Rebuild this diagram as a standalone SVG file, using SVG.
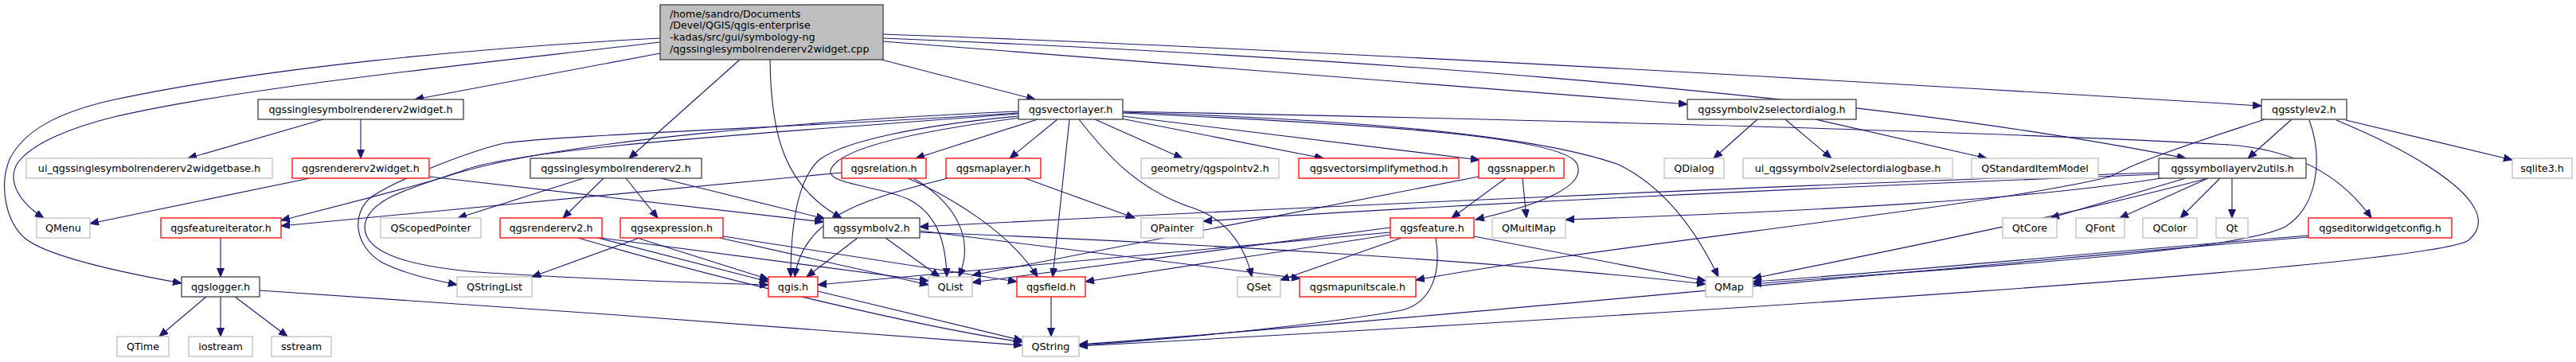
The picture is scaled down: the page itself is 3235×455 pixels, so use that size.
<svg xmlns="http://www.w3.org/2000/svg" width="3235" height="455" viewBox="0 0 3235 455">
<style>
.e{fill:none;stroke:#191970;stroke-width:1.1;marker-end:url(#arr)}
rect{fill:#fff;stroke-width:1.3}
.b{stroke:#404040}.r{stroke:#ff0000}.g{stroke:#bfbfbf}
text{font-family:"DejaVu Sans","Liberation Sans",sans-serif;font-size:12.7px;text-anchor:middle;fill:#000}
</style>
<defs>
<marker id="arr" markerWidth="12" markerHeight="10" refX="11" refY="4.5" orient="auto" markerUnits="userSpaceOnUse"><path d="M0,0 L11,4.5 L0,9 z" fill="#191970" stroke="#191970" stroke-width="1"/></marker>
</defs>
<rect x="0" y="0" width="3235" height="455" style="fill:#fff;stroke:none"/>
<g id="connectors">
<path class="e" d="M829,48 C600,60 330,85 140,126 C70,142 30,165 12,200 C-2,235 8,280 32,300 C60,322 150,342 228,356"/>
<path class="e" d="M829,53 C600,80 300,110 143,147 C90,160 40,180 22,205 C8,228 25,255 55,274"/>
<path class="e" d="M829,67 L521,125"/>
<path class="e" d="M929,75 L790,199"/>
<path class="e" d="M967,75 C968,170 985,235 1057,274"/>
<path class="e" d="M1107,75 L1300,125"/>
<path class="e" d="M1109,52 L2119,131"/>
<path class="e" d="M1109,43 C1600,60 2300,100 2840,133"/>
<path class="e" d="M1109,48 C1600,68 2300,110 2745,199"/>
<path class="e" d="M406,150 L236,199"/>
<path class="e" d="M453,150 L453,199"/>
<path class="e" d="M389,224 L113,281"/>
<path class="e" d="M539,222 L1034,279"/>
<path class="e" d="M733,224 L575,274"/>
<path class="e" d="M758,224 L707,274"/>
<path class="e" d="M786,224 L826,274"/>
<path class="e" d="M830,224 L1036,275"/>
<path class="e" d="M1279,140 C1050,150 700,175 560,222 C500,240 420,260 353,277"/>
<path class="e" d="M1279,142 C1000,160 700,170 633,180 C590,190 500,225 467,247 C440,268 445,310 480,330 C510,345 545,352 574,358"/>
<path class="e" d="M1279,143 C1000,165 650,185 580,215 C520,235 460,250 458,285 C457,320 520,335 600,342 C750,352 900,356 965,358"/>
<path class="e" d="M1279,146 C1150,158 1060,178 1030,200 C1000,225 993,290 993,348"/>
<path class="e" d="M1281,148 C1150,165 1060,185 1045,210 C1030,232 1100,232 1140,250 C1180,270 1188,310 1189,348"/>
<path class="e" d="M1303,150 L1150,199"/>
<path class="e" d="M1328,150 L1268,199"/>
<path class="e" d="M1343,150 L1322,348"/>
<path class="e" d="M1355,150 C1390,195 1430,240 1500,262 C1545,278 1565,315 1572,348"/>
<path class="e" d="M1375,150 L1485,199"/>
<path class="e" d="M1408,149 L1662,199"/>
<path class="e" d="M1410,146 L1858,201"/>
<path class="e" d="M1410,142 C1700,155 1960,170 1980,205 C1995,235 1930,258 1853,276"/>
<path class="e" d="M1410,141 C1700,150 1930,170 2033,207 C2090,235 2130,290 2158,348"/>
<path class="e" d="M1410,140 C1900,150 2500,165 2800,182 C2880,188 2940,220 2978,274"/>
<path class="e" d="M1057,217 L353,284"/>
<path class="e" d="M1147,224 C1200,255 1225,300 1204,348"/>
<path class="e" d="M1140,224 C1200,250 1270,295 1303,348"/>
<path class="e" d="M1190,224 C1100,248 1010,265 998,348"/>
<path class="e" d="M1287,224 L1425,274"/>
<path class="e" d="M1077,299 L1013,348"/>
<path class="e" d="M1112,299 L1180,348"/>
<path class="e" d="M1155,290 L1633,350"/>
<path class="e" d="M1155,292 C1500,305 1900,330 2142,357"/>
<path class="e" d="M803,299 L668,348"/>
<path class="e" d="M800,299 L965,351"/>
<path class="e" d="M904,299 L1166,358"/>
<path class="e" d="M908,297 L1277,354"/>
<path class="e" d="M751,299 L965,354"/>
<path class="e" d="M754,299 L1166,353"/>
<path class="e" d="M726,299 C900,350 1150,410 1284,430"/>
<path class="e" d="M277,299 L277,348"/>
<path class="e" d="M259,373 L200,423"/>
<path class="e" d="M277,373 L277,423"/>
<path class="e" d="M295,373 L361,423"/>
<path class="e" d="M326,365 C600,382 1100,420 1284,434"/>
<path class="e" d="M1027,366 L1284,428"/>
<path class="e" d="M1320,373 L1320,423"/>
<path class="e" d="M1746,292 L1027,358"/>
<path class="e" d="M1746,286 L1221,355"/>
<path class="e" d="M1746,295 L1363,354"/>
<path class="e" d="M1760,299 L1608,352"/>
<path class="e" d="M1851,297 L2142,353"/>
<path class="e" d="M1803,299 C1810,340 1800,380 1760,390 C1650,410 1450,428 1355,434"/>
<path class="e" d="M1891,224 L1823,274"/>
<path class="e" d="M1912,224 L1917,274"/>
<path class="e" d="M1857,222 L1221,346"/>
<path class="e" d="M2207,150 L2152,199"/>
<path class="e" d="M2242,150 L2300,199"/>
<path class="e" d="M2280,150 L2495,199"/>
<path class="e" d="M2711,217 C2300,230 1600,262 1155,285"/>
<path class="e" d="M2711,219 C2300,235 1800,258 1511,278"/>
<path class="e" d="M2714,224 C2550,250 2300,265 1966,276"/>
<path class="e" d="M2773,224 C2600,270 2350,320 2201,350"/>
<path class="e" d="M2745,224 L2575,274"/>
<path class="e" d="M2773,224 L2662,274"/>
<path class="e" d="M2788,224 L2738,274"/>
<path class="e" d="M2803,224 L2803,274"/>
<path class="e" d="M2878,150 L2823,199"/>
<path class="e" d="M2946,151 L3155,201"/>
<path class="e" d="M2844,150 C2760,178 2690,200 2650,222 C2500,260 2000,310 1778,352"/>
<path class="e" d="M2900,151 C2918,200 2910,260 2870,285 C2800,320 2400,340 2201,357"/>
<path class="e" d="M2934,151 C3040,195 3150,260 3100,302 C3050,335 2100,395 1355,435"/>
<path class="e" d="M2899,296 C2600,320 2350,345 2201,354"/>
<path class="e" d="M2899,298 C2500,330 1800,400 1355,433"/>
</g>
<g id="root"><rect x="829" y="6" width="280" height="69" class="b" style="fill:#bfbfbf"/>
<text x="841" y="21.5" style="text-anchor:start">/home/sandro/Documents</text>
<text x="841" y="36" style="text-anchor:start">/Devel/QGIS/qgis-enterprise</text>
<text x="841" y="50.5" style="text-anchor:start">-kadas/src/gui/symbology-ng</text>
<text x="841" y="65.5" style="text-anchor:start">/qgssinglesymbolrendererv2widget.cpp</text></g>
<g id="n_widget"><rect x="324" y="125" width="258" height="25" class="b"/><text x="453" y="142">qgssinglesymbolrendererv2widget.h</text></g>
<g id="n_vectorlayer"><rect x="1279" y="125" width="131" height="25" class="b"/><text x="1344.5" y="142">qgsvectorlayer.h</text></g>
<g id="n_selector"><rect x="2119" y="125" width="212" height="25" class="b"/><text x="2225" y="142">qgssymbolv2selectordialog.h</text></g>
<g id="n_stylev2"><rect x="2840" y="125" width="107" height="25" class="b"/><text x="2893.5" y="142">qgsstylev2.h</text></g>
<g id="n_uibase"><rect x="33" y="199" width="309" height="25" class="g"/><text x="187.5" y="216">ui_qgssinglesymbolrendererv2widgetbase.h</text></g>
<g id="n_rw"><rect x="367" y="199" width="172" height="25" class="r"/><text x="453" y="216">qgsrendererv2widget.h</text></g>
<g id="n_ssr"><rect x="666" y="199" width="215" height="25" class="b"/><text x="773.5" y="216">qgssinglesymbolrendererv2.h</text></g>
<g id="n_relation"><rect x="1057" y="199" width="106" height="25" class="r"/><text x="1110" y="216">qgsrelation.h</text></g>
<g id="n_maplayer"><rect x="1188" y="199" width="119" height="25" class="r"/><text x="1247.5" y="216">qgsmaplayer.h</text></g>
<g id="n_pointv2"><rect x="1433" y="199" width="173" height="25" class="g"/><text x="1519.5" y="216">geometry/qgspointv2.h</text></g>
<g id="n_vsimp"><rect x="1631" y="199" width="201" height="25" class="r"/><text x="1731.5" y="216">qgsvectorsimplifymethod.h</text></g>
<g id="n_snapper"><rect x="1857" y="199" width="107" height="25" class="r"/><text x="1910.5" y="216">qgssnapper.h</text></g>
<g id="n_qdialog"><rect x="2090" y="199" width="75" height="25" class="g"/><text x="2127.5" y="216">QDialog</text></g>
<g id="n_uiselector"><rect x="2189" y="199" width="263" height="25" class="g"/><text x="2320.5" y="216">ui_qgssymbolv2selectordialogbase.h</text></g>
<g id="n_qsim"><rect x="2476" y="199" width="159" height="25" class="g"/><text x="2555.5" y="216">QStandardItemModel</text></g>
<g id="n_utils"><rect x="2711" y="199" width="185" height="25" class="b"/><text x="2803.5" y="216">qgssymbollayerv2utils.h</text></g>
<g id="n_sqlite"><rect x="3155" y="199" width="75" height="25" class="g"/><text x="3192.5" y="216">sqlite3.h</text></g>
<g id="n_qmenu"><rect x="46" y="274" width="67" height="25" class="g"/><text x="79.5" y="291">QMenu</text></g>
<g id="n_fiter"><rect x="202" y="274" width="151" height="25" class="r"/><text x="277.5" y="291">qgsfeatureiterator.h</text></g>
<g id="n_qscoped"><rect x="478" y="274" width="126" height="25" class="g"/><text x="541" y="291">QScopedPointer</text></g>
<g id="n_r2"><rect x="628" y="274" width="128" height="25" class="r"/><text x="692" y="291">qgsrendererv2.h</text></g>
<g id="n_expr"><rect x="779" y="274" width="129" height="25" class="r"/><text x="843.5" y="291">qgsexpression.h</text></g>
<g id="n_symbolv2"><rect x="1034" y="274" width="121" height="25" class="b"/><text x="1094.5" y="291">qgssymbolv2.h</text></g>
<g id="n_qpainter"><rect x="1433" y="274" width="78" height="25" class="g"/><text x="1472" y="291">QPainter</text></g>
<g id="n_feature"><rect x="1746" y="274" width="105" height="25" class="r"/><text x="1798.5" y="291">qgsfeature.h</text></g>
<g id="n_qmultimap"><rect x="1874" y="274" width="92" height="25" class="g"/><text x="1920" y="291">QMultiMap</text></g>
<g id="n_qtcore"><rect x="2515" y="274" width="68" height="25" class="g"/><text x="2549" y="291">QtCore</text></g>
<g id="n_qfont"><rect x="2607" y="274" width="61" height="25" class="g"/><text x="2637.5" y="291">QFont</text></g>
<g id="n_qcolor"><rect x="2691" y="274" width="68" height="25" class="g"/><text x="2725" y="291">QColor</text></g>
<g id="n_qt"><rect x="2783" y="274" width="40" height="25" class="g"/><text x="2803" y="291">Qt</text></g>
<g id="n_editorcfg"><rect x="2899" y="274" width="180" height="25" class="r"/><text x="2989" y="291">qgseditorwidgetconfig.h</text></g>
<g id="n_logger"><rect x="228" y="348" width="98" height="25" class="b"/><text x="277" y="365">qgslogger.h</text></g>
<g id="n_qstringlist"><rect x="574" y="348" width="94" height="25" class="g"/><text x="621" y="365">QStringList</text></g>
<g id="n_qgis"><rect x="965" y="348" width="62" height="25" class="r"/><text x="996" y="365">qgis.h</text></g>
<g id="n_qlist"><rect x="1166" y="348" width="55" height="25" class="g"/><text x="1193.5" y="365">QList</text></g>
<g id="n_field"><rect x="1277" y="348" width="86" height="25" class="r"/><text x="1320" y="365">qgsfield.h</text></g>
<g id="n_qset"><rect x="1554" y="348" width="54" height="25" class="g"/><text x="1581" y="365">QSet</text></g>
<g id="n_mapunit"><rect x="1632" y="348" width="146" height="25" class="r"/><text x="1705" y="365">qgsmapunitscale.h</text></g>
<g id="n_qmap"><rect x="2142" y="348" width="59" height="25" class="g"/><text x="2171.5" y="365">QMap</text></g>
<g id="n_qtime"><rect x="147" y="423" width="65" height="25" class="g"/><text x="179.5" y="440">QTime</text></g>
<g id="n_iostream"><rect x="237" y="423" width="80" height="25" class="g"/><text x="277" y="440">iostream</text></g>
<g id="n_sstream"><rect x="341" y="423" width="75" height="25" class="g"/><text x="378.5" y="440">sstream</text></g>
<g id="n_qstring"><rect x="1284" y="423" width="71" height="25" class="g"/><text x="1319.5" y="440">QString</text></g>
</svg>
